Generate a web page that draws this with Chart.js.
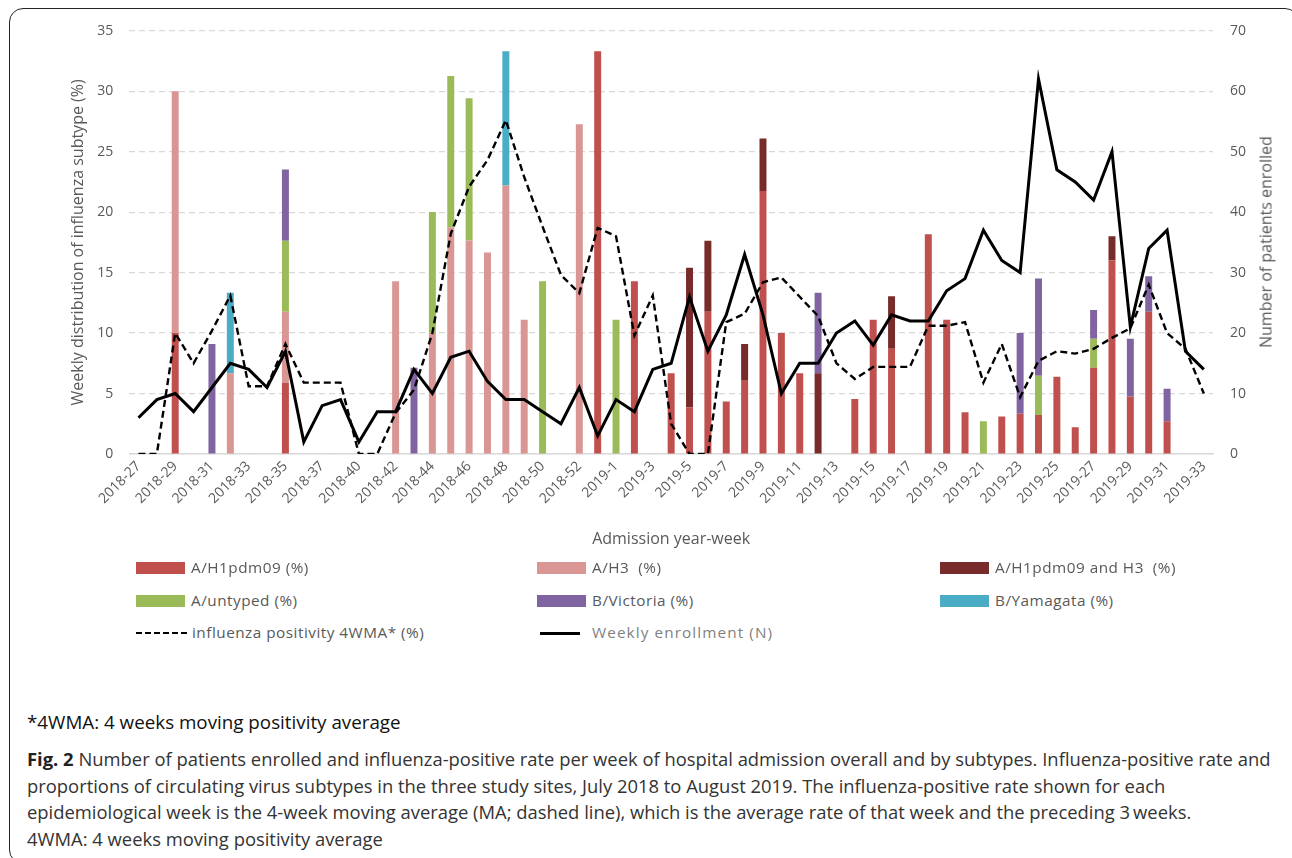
<!DOCTYPE html>
<html>
<head>
<meta charset="utf-8">
<script src="https://cdn.jsdelivr.net/npm/chart.js@4.4.0/dist/chart.umd.min.js"></script>
<style>
  html, body { margin:0; padding:0; background:#fff; }
  body { width:1292px; height:858px; position:relative; overflow:hidden; font-family:"Open Sans", "Noto Sans", sans-serif; }
  #frame { position:absolute; left:9px; top:8px; width:1290px; height:856px; border:1.5px solid #222; border-radius:14px; box-sizing:border-box; }
  #wrap { position:absolute; left:0; top:0; width:1292px; height:560px; }
  .lg { position:absolute; font-size:15.3px; color:#595959; white-space:pre; line-height:18px; letter-spacing:0.5px; }
  .sw { position:absolute; width:49px; height:12px; }
  .note { position:absolute; left:27px; top:712px; font-size:18.8px; line-height:20px; color:#111; white-space:nowrap; }
  .cap { position:absolute; left:27px; font-size:18.4px; color:#333; white-space:nowrap; line-height:20px; }
  #rtitle { position:absolute; left:1266px; top:242px; font-size:16px; color:#595959; white-space:nowrap;
            transform:translate(-50%,-50%) rotate(-90deg); line-height:19px; }
</style>
</head>
<body>
<div id="frame"></div>
<div id="wrap"><canvas id="c" width="1292" height="560"></canvas></div>
<div id="rtitle">Number of patients enrolled</div>

<div id="legend"></div>

<div class="note">*4WMA: 4 weeks moving positivity average</div>
<div class="cap" style="top:749px"><b style="color:#222">Fig. 2</b> Number of patients enrolled and influenza-positive rate per week of hospital admission overall and by subtypes. Influenza-positive rate and</div>
<div class="cap" style="top:776px">proportions of circulating virus subtypes in the three study sites, July 2018 to August 2019. The influenza-positive rate shown for each</div>
<div class="cap" style="top:802px">epidemiological week is the 4-week moving average (MA; dashed line), which is the average rate of that week and the preceding 3&#8201;weeks.</div>
<div class="cap" style="top:829px">4WMA: 4 weeks moving positivity average</div>

<script>
// ---- categories (admission year-week) ----
const weeks = [
  "2018-27","2018-28","2018-29","2018-30","2018-31","2018-32","2018-33","2018-34","2018-35","2018-36",
  "2018-37","2018-39","2018-40","2018-41","2018-42","2018-43","2018-44","2018-45","2018-46","2018-47",
  "2018-48","2018-49","2018-50","2018-51","2018-52","2018-53","2019-1","2019-2","2019-3","2019-4",
  "2019-5","2019-6","2019-7","2019-8","2019-9","2019-10","2019-11","2019-12","2019-13","2019-14",
  "2019-15","2019-16","2019-17","2019-18","2019-19","2019-20","2019-21","2019-22","2019-23","2019-24",
  "2019-25","2019-26","2019-27","2019-28","2019-29","2019-30","2019-31","2019-32","2019-33"
];

// ---- subtype distribution (%) ----
const h1pdm09 = [0,0,10,0,0,0,0,0,5.88,0, 0,0,0,0,0,0,0,0,0,0, 0,0,0,0,0,33.3,0,14.29,0,6.67,
  3.85,11.76,4.35,6.06,21.74,10,6.67,0,0,4.55, 11.1,8.7,0,18.18,11.1,3.45,0,3.1,3.33,3.23,
  6.38,2.22,7.14,16,4.76,11.76,2.7,0,0];
const h3 = [0,0,20,0,0,6.67,0,0,5.88,0, 0,0,0,0,14.29,0,10,18.75,17.65,16.67, 22.2,11.1,0,0,27.27,0,0,0,0,0,
  0,0,0,0,0,0,0,0,0,0, 0,0,0,0,0,0,0,0,0,0, 0,0,0,0,0,0,0,0,0];
const h1h3 = [0,0,0,0,0,0,0,0,0,0, 0,0,0,0,0,0,0,0,0,0, 0,0,0,0,0,0,0,0,0,0,
  11.54,5.88,0,3.03,4.35,0,0,6.67,0,0, 0,4.35,0,0,0,0,0,0,0,0, 0,0,0,2,0,0,0,0,0];
const untyped = [0,0,0,0,0,0,0,0,5.88,0, 0,0,0,0,0,0,10,12.5,11.76,0, 0,0,14.29,0,0,0,11.1,0,0,0,
  0,0,0,0,0,0,0,0,0,0, 0,0,0,0,0,0,2.7,0,0,3.23, 0,0,2.38,0,0,0,0,0,0];
const victoria = [0,0,0,0,9.09,0,0,0,5.88,0, 0,0,0,0,0,7.14,0,0,0,0, 0,0,0,0,0,0,0,0,0,0,
  0,0,0,0,0,0,0,6.67,0,0, 0,0,0,0,0,0,0,0,6.67,8.06, 0,0,2.38,0,4.76,2.94,2.7,0,0];
const yamagata = [0,0,0,0,0,6.67,0,0,0,0, 0,0,0,0,0,0,0,0,0,0, 11.1,0,0,0,0,0,0,0,0,0,
  0,0,0,0,0,0,0,0,0,0, 0,0,0,0,0,0,0,0,0,0, 0,0,0,0,0,0,0,0,0];

// ---- influenza positivity 4WMA (%) ----
const positivity4WMA = [0,0,10,7.5,10.2,13.1,5.6,5.6,9.1,5.9, 5.9,5.9,0,0,3.4,5.3,10,18.2,22.1,24.3,
  27.6,22.9,18.8,14.8,13.3,18.7,18.0,9.8,13.1,2.5, 0,0,10.9,11.6,14.2,14.6,13.0,11.4,7.5,6.2,
  7.2,7.2,7.2,10.6,10.6,10.9,5.9,9.1,4.7,7.7, 8.5,8.3,8.7,9.6,10.4,14.0,10.0,8.7,5.0];

// ---- weekly enrollment (N) ----
const enrollment = [6,9,10,7,11,15,14,11,17,2, 8,9,2,7,7,14,10,16,17,12,
  9,9,7,5,11,3,9,7,14,15, 26,17,23,33,23,10,15,15,20,22,
  18,23,22,22,27,29,37,32,30,62, 47,45,42,50,21,34,37,17,14];

// ---- axis ticks ----
const leftTicks = {min:0, max:35, step:5};
const rightTicks = {min:0, max:70, step:10};

const colors = {
  h1:'#C0504D', h3:'#D99694', mix:'#772C2A', unt:'#9BBB59', vic:'#8064A2', yam:'#4BACC6'
};

const barBase = {type:'bar', yAxisID:'y', stack:'s', order:1, barPercentage:0.76, categoryPercentage:0.5, borderWidth:0};

const data = {
  labels: weeks,
  datasets: [
    {type:'line', label:'influenza positivity 4WMA* (%)', data:positivity4WMA, yAxisID:'y', order:0,
      borderColor:'#000', borderWidth:2.4, borderDash:[7,4], pointRadius:0, tension:0, fill:false},
    {type:'line', label:'Weekly enrollment (N)', data:enrollment, yAxisID:'y2', order:0,
      borderColor:'#000', borderWidth:3, pointRadius:0, tension:0, fill:false, borderJoinStyle:'miter'},
    Object.assign({label:'A/H1pdm09 (%)', data:h1pdm09, backgroundColor:colors.h1}, barBase),
    Object.assign({label:'A/H3  (%)', data:h3, backgroundColor:colors.h3}, barBase),
    Object.assign({label:'A/H1pdm09 and H3  (%)', data:h1h3, backgroundColor:colors.mix}, barBase),
    Object.assign({label:'A/untyped (%)', data:untyped, backgroundColor:colors.unt}, barBase),
    Object.assign({label:'B/Victoria (%)', data:victoria, backgroundColor:colors.vic}, barBase),
    Object.assign({label:'B/Yamagata (%)', data:yamagata, backgroundColor:colors.yam}, barBase)
  ]
};

const tickFont = {family:'"Open Sans", sans-serif', size:14};
const titleFont = {family:'"Open Sans", sans-serif', size:16};

new Chart(document.getElementById('c'), {
  data,
  options: {
    responsive:false, animation:false, devicePixelRatio:1,
    layout:{padding:{top:30.7, left:0, right:0, bottom:0}},
    plugins:{legend:{display:false}, tooltip:{enabled:false}},
    scales:{
      x:{
        stacked:true, offset:true,
        grid:{display:false, drawTicks:false},
        border:{display:true, color:'#d9d9d9', width:1.5},
        ticks:{autoSkip:false, maxRotation:45, minRotation:45, padding:4, color:'#595959', font:tickFont,
          callback:function(v, i){ return i % 2 === 0 ? this.getLabelForValue(v) : ''; }},
        title:{display:true, text:'Admission year-week', color:'#595959', font:titleFont, padding:{top:0, bottom:11.4}},
        afterFit:(s)=>{ s.height = 106; }
      },
      y:{
        position:'left', stacked:true, min:leftTicks.min, max:leftTicks.max,
        grid:{color:'#d9d9d9', lineWidth:1.2, drawTicks:false},
        border:{display:false, dash:[6,4]},
        ticks:{stepSize:leftTicks.step, padding:16, color:'#595959', font:tickFont},
        title:{display:true, text:'Weekly distribution of influenza subtype (%)', color:'#595959', font:titleFont, padding:{top:68.4, bottom:0}},
        afterFit:(s)=>{ s.width = 129.3; }
      },
      y2:{
        position:'right', min:rightTicks.min, max:rightTicks.max,
        grid:{display:false, drawTicks:false},
        border:{display:false},
        ticks:{stepSize:rightTicks.step, padding:17, color:'#595959', font:tickFont},
        title:{display:false},
        afterFit:(s)=>{ s.width = 79; }
      }
    }
  }
});

// ---- HTML legend (3 columns) ----
const legendItems = [
  {kind:'box', color:colors.h1, text:'A/H1pdm09 (%)', x:136, y:568},
  {kind:'box', color:colors.h3, text:'A/H3  (%)', x:537, y:568},
  {kind:'box', color:colors.mix, text:'A/H1pdm09 and H3  (%)', x:940, y:568},
  {kind:'box', color:colors.unt, text:'A/untyped (%)', x:136, y:601},
  {kind:'box', color:colors.vic, text:'B/Victoria (%)', x:537, y:601},
  {kind:'box', color:colors.yam, text:'B/Yamagata (%)', x:940, y:601},
  {kind:'dash', text:'influenza positivity 4WMA* (%)', x:136, y:633},
  {kind:'solid', text:'Weekly enrollment (N)', x:540, y:633}
];
const lg = document.getElementById('legend');
legendItems.forEach(it=>{
  let tx;
  if (it.kind==='box') {
    const s = document.createElement('div'); s.className='sw';
    s.style.left=it.x+'px'; s.style.top=(it.y-6)+'px'; s.style.background=it.color; lg.appendChild(s);
    tx = it.x + 55;
  } else if (it.kind==='dash') {
    const s = document.createElement('div');
    s.style.cssText='position:absolute;left:'+it.x+'px;top:'+(it.y-1)+'px;width:51px;height:0;border-top:2.5px dashed #000;';
    lg.appendChild(s); tx = it.x + 56;
  } else {
    const s = document.createElement('div');
    s.style.cssText='position:absolute;left:'+it.x+'px;top:'+(it.y-1.5)+'px;width:40px;height:3px;background:#000;';
    lg.appendChild(s); tx = it.x + 52;
  }
  const t = document.createElement('div'); t.className='lg'; t.textContent=it.text;
  t.style.left=tx+'px'; t.style.top=(it.y-10)+'px';
  if (it.kind==='solid') { t.style.color='#7f7f7f'; t.style.letterSpacing='1.1px'; }
  lg.appendChild(t);
});
</script>
</body>
</html>
